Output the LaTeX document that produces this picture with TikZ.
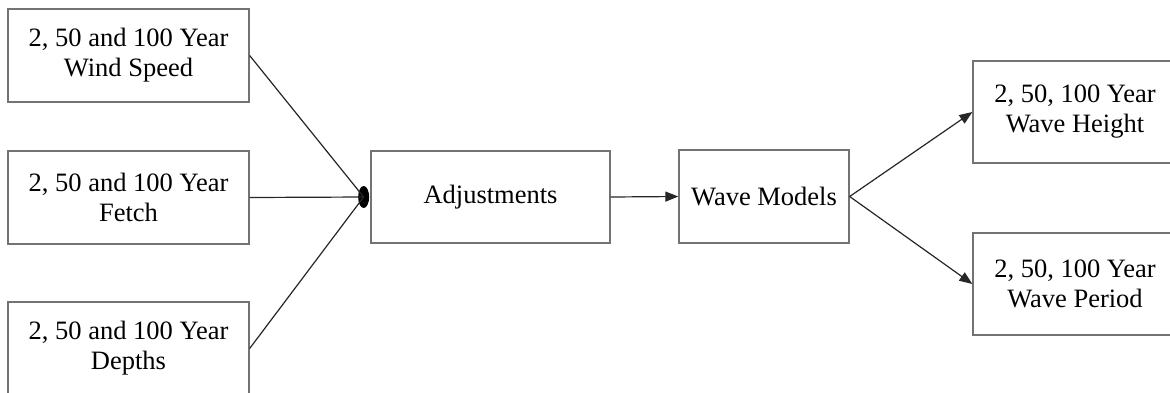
\documentclass[tikz,border=0pt]{standalone}
\usepackage{fontspec}
\setmainfont{Liberation Serif}
\usetikzlibrary{arrows.meta,shapes.geometric}

\tikzset{
  box/.style={draw=black!55, line width=1.3pt, fill=white, align=center,
    inner sep=0pt, font=\fontsize{26.5}{30}\selectfont},
  link/.style={draw=black!85, line width=1.2pt},
  arr/.style={link, -{Triangle[length=13pt,width=10pt]}},
}

\begin{document}
\begin{tikzpicture}[x=1pt, y=-1pt]
  \useasboundingbox (0,0) rectangle (1170,392);
  \clip (0,0) rectangle (1170,392);

  % input data boxes
  \node[box, minimum width=241pt, minimum height=93pt] (ws) at (128.5,55.5)
    {2, 50 and 100 Year\\Wind Speed};
  \node[box, minimum width=241pt, minimum height=93pt] (fe) at (128.5,197.5)
    {2, 50 and 100 Year\\Fetch};
  \node[box, minimum width=241pt, minimum height=93pt] (de) at (128.5,348.5)
    {2, 50 and 100 Year\\Depths};

  % processing steps
  \node[box, minimum width=239pt, minimum height=92pt] (adj) at (490.5,197)
    {Adjustments};
  \node[box, minimum width=170pt, minimum height=93pt] (wm) at (764,196.5)
    {Wave Models};

  % outputs
  \node[box, minimum width=204pt, minimum height=102pt] (wh) at (1075,112)
    {2, 50, 100 Year\\Wave Height};
  \node[box, minimum width=204pt, minimum height=102pt] (wp) at (1075,284)
    {2, 50, 100 Year\\Wave Period};

  % merging point of the three inputs
  \node[ellipse, fill=black, inner sep=0pt, minimum width=11pt,
        minimum height=22pt, anchor=east] (jn) at ([xshift=-1pt]adj.west) {};

  \draw[link] (ws.east) -- (jn.center);
  \draw[link] (fe.east) -- (jn.center);
  \draw[link] (de.east) -- (jn.center);

  \draw[arr] (adj.east) -- (wm.west);
  \draw[arr] (wm.east) -- (wh.west);
  \draw[arr] (wm.east) -- (wp.west);
\end{tikzpicture}
\end{document}
